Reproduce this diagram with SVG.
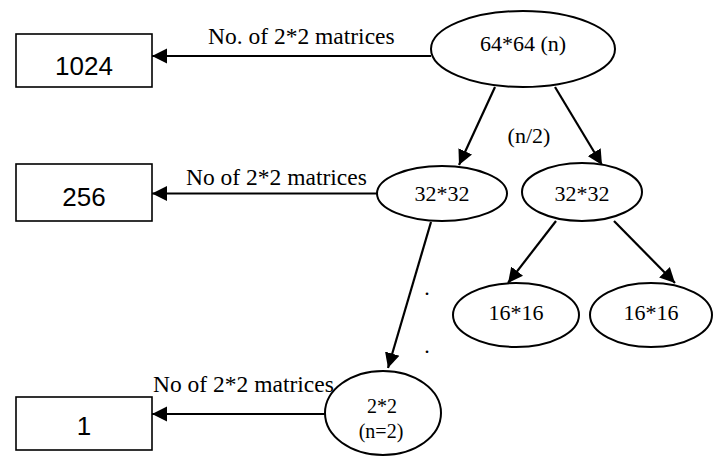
<svg xmlns="http://www.w3.org/2000/svg" width="713" height="456" viewBox="0 0 713 456">
<defs>
<style>
.box{fill:#fff;stroke:#000;stroke-width:1.6}
.ell{fill:#fff;stroke:#000;stroke-width:2}
.num{font-family:"Liberation Sans","Open Sans",sans-serif;font-size:26px;fill:#000;text-anchor:middle}
.lbl{font-family:"Liberation Serif","Times New Roman",serif;font-size:22px;fill:#000;text-anchor:middle}
.elbl{font-family:"Liberation Serif","Times New Roman",serif;font-size:23.5px;fill:#000}
.con{stroke:#000;stroke-width:2.2;fill:none;marker-end:url(#ah)}
</style>
<marker id="ah" markerUnits="userSpaceOnUse" markerWidth="16" markerHeight="16" viewBox="0 0 16 16" refX="15" refY="8" orient="auto">
<path d="M0,0.5 L15,8 L0,15.5 Z" fill="#000"/>
</marker>
</defs>
<g id="connectors">
<line class="con" x1="431" y1="56" x2="152" y2="56"/>
<line class="con" x1="495" y1="87" x2="459" y2="165"/>
<line class="con" x1="555" y1="87" x2="602" y2="165"/>
<line class="con" x1="377" y1="193.5" x2="152" y2="193.5"/>
<line class="con" x1="556" y1="221" x2="508" y2="283"/>
<line class="con" x1="614" y1="221" x2="675" y2="283"/>
<line class="con" x1="431" y1="222" x2="388" y2="368"/>
<line class="con" x1="325" y1="414" x2="152" y2="414"/>
<text class="elbl" x="208" y="44">No. of 2*2 matrices</text>
<text class="elbl" x="186" y="185">No of 2*2 matrices</text>
<text class="elbl" x="153" y="392">No of 2*2 matrices</text>
<text class="lbl" x="529" y="143">(n/2)</text>
<text class="lbl" x="427" y="295">.</text>
<text class="lbl" x="427" y="353">.</text>
</g>
<g id="box1024">
<rect class="box" x="16" y="34" width="136" height="53"/>
<text class="num" x="84" y="75">1024</text>
</g>
<g id="box256">
<rect class="box" x="16" y="164" width="136" height="57"/>
<text class="num" x="84" y="206">256</text>
</g>
<g id="box1">
<rect class="box" x="16" y="397" width="136" height="53"/>
<text class="num" x="84" y="435">1</text>
</g>
<g id="n64">
<ellipse class="ell" cx="523" cy="49" rx="92" ry="38"/>
<text class="lbl" x="523" y="51">64*64 (n)</text>
</g>
<g id="n32a">
<ellipse class="ell" cx="442" cy="193.5" rx="65" ry="27.5"/>
<text class="lbl" x="442" y="201">32*32</text>
</g>
<g id="n32b">
<ellipse class="ell" cx="582" cy="192" rx="60" ry="29"/>
<text class="lbl" x="582" y="201">32*32</text>
</g>
<g id="n16a">
<ellipse class="ell" cx="516" cy="315" rx="63" ry="32"/>
<text class="lbl" x="516" y="320">16*16</text>
</g>
<g id="n16b">
<ellipse class="ell" cx="651" cy="315" rx="61" ry="32"/>
<text class="lbl" x="651" y="320">16*16</text>
</g>
<g id="n2">
<ellipse class="ell" cx="383" cy="413" rx="58" ry="42"/>
<text class="lbl" x="382" y="413" style="font-size:20px">2*2</text>
<text class="lbl" x="381" y="438" style="font-size:20px">(n=2)</text>
</g>
</svg>
